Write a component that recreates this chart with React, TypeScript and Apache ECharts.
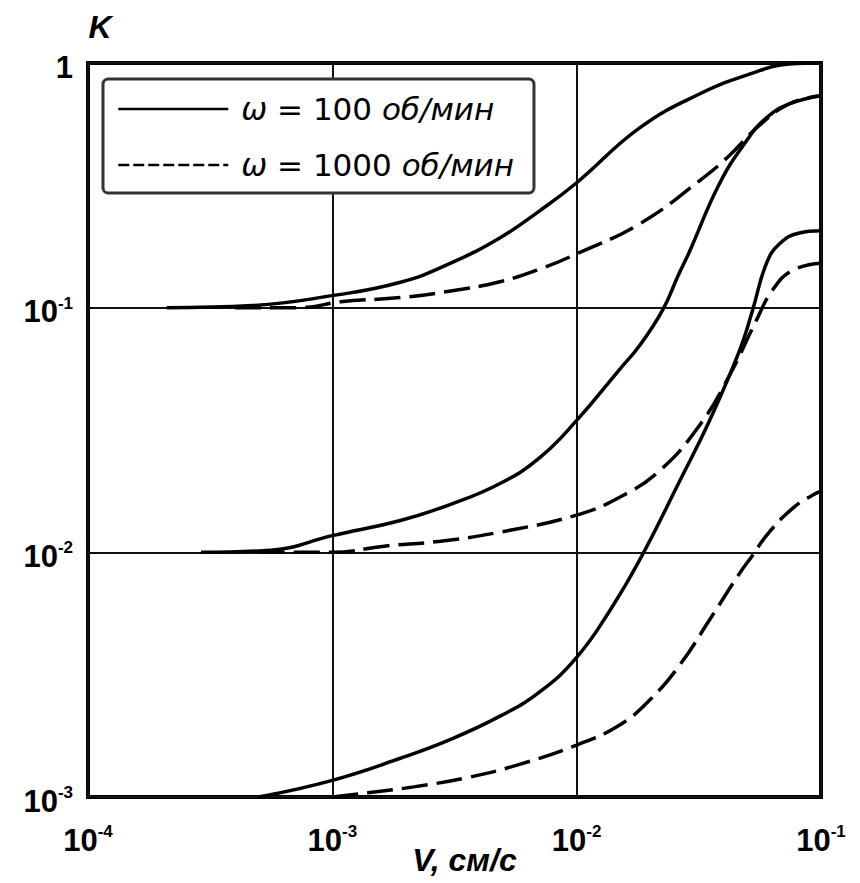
import React, { useEffect, useRef } from "react";
import * as echarts from "echarts";

// ---- data ----
const NAME_100 = "ω = 100 об/мин";
const NAME_1000 = "ω = 1000 об/мин";

// tick exponents (decades)
const xTickExponents = [-4, -3, -2, -1];
const yTickExponents = [-3, -2, -1, 0];

// group 1 (K0 = 0.1)
const g1SolidX = [2.1e-4, 4.7e-4, 1e-3, 1.9e-3, 3.05e-3, 4.9e-3, 7.1e-3, 1e-2, 1.81e-2, 3.18e-2, 5.1e-2, 7.4e-2, 1e-1];
const g1SolidY = [0.1, 0.102, 0.112, 0.127, 0.152, 0.194, 0.25, 0.324, 0.543, 0.747, 0.9, 0.99, 1.0];
const g1DashX = [4e-4, 7.4e-4, 1.08e-3, 1.9e-3, 3.05e-3, 4.9e-3, 7.1e-3, 1e-2, 1.81e-2, 3.18e-2, 4.2e-2, 5.56e-2, 7.4e-2, 1e-1];
const g1DashY = [0.1, 0.1, 0.1057, 0.11, 0.117, 0.128, 0.144, 0.166, 0.22, 0.33, 0.417, 0.553, 0.68, 0.735];

// group 2 (K0 = 0.01)
const g2SolidX = [2.9e-4, 5.6e-4, 1e-3, 1.9e-3, 3.05e-3, 4.9e-3, 7.1e-3, 1e-2, 1.5e-2, 1.81e-2, 2.25e-2, 2.6e-2, 2.9e-2, 3.84e-2, 4.95e-2, 5.98e-2, 7.4e-2, 1e-1];
const g2SolidY = [0.01, 0.0102, 0.0117, 0.0135, 0.0157, 0.0192, 0.0245, 0.0346, 0.056, 0.07, 0.098, 0.135, 0.17, 0.321, 0.48, 0.597, 0.68, 0.735];
const g2DashX = [5e-4, 1e-3, 1.63e-3, 2.77e-3, 4.87e-3, 1e-2, 1.5e-2, 2.19e-2, 3.18e-2, 4.22e-2, 5.43e-2, 6.3e-2, 7.62e-2, 1e-1];
const g2DashY = [0.01, 0.01, 0.0106, 0.0111, 0.0121, 0.0142, 0.0168, 0.0216, 0.033, 0.0528, 0.0885, 0.117, 0.142, 0.152];

// group 3 (K0 = 0.001)
const g3SolidX = [5e-4, 1e-3, 1.9e-3, 3.05e-3, 4.9e-3, 7.1e-3, 1e-2, 1.37e-2, 1.81e-2, 2.65e-2, 3.5e-2, 4.64e-2, 5.24e-2, 5.97e-2, 6.75e-2, 8.15e-2, 1e-1];
const g3SolidY = [0.001, 0.00117, 0.00144, 0.00172, 0.00215, 0.0027, 0.00372, 0.0058, 0.0093, 0.0197, 0.0346, 0.0667, 0.0972, 0.151, 0.182, 0.202, 0.206];
const g3DashX = [1e-3, 1.4e-3, 2.15e-3, 3.57e-3, 5.7e-3, 1e-2, 1.5e-2, 1.99e-2, 2.64e-2, 3.5e-2, 4.64e-2, 5.2e-2, 6.14e-2, 7.76e-2, 9.3e-2, 1e-1];
const g3DashY = [0.001, 0.00104, 0.0011, 0.0012, 0.00135, 0.00163, 0.00197, 0.00249, 0.00346, 0.0053, 0.0082, 0.0096, 0.0121, 0.0153, 0.0172, 0.0178];

const zip = (xs: number[], ys: number[]) => xs.map((x, i) => [x, ys[i]]);

const FONT = "Liberation Sans";
const DASH = [26, 9];

const tickRich = {
  b: { fontSize: 31, fontWeight: "bold", fontFamily: FONT, color: "#000", lineHeight: 34 },
  s: { fontSize: 17, fontWeight: "bold", fontFamily: FONT, color: "#000", lineHeight: 24, verticalAlign: "top" },
};

const fmtTick = (v: number) => {
  const e = Math.round(Math.log10(v));
  if (e === 0) return "{b|1}";
  return `{b|10}{s|${e}}`;
};

export default function App() {
  const ref = useRef<HTMLDivElement>(null);
  useEffect(() => {
    if (!ref.current) return;
    const chart = echarts.init(ref.current, undefined, { renderer: "svg" });
    const mk = (name: string, xs: number[], ys: number[], dashed: boolean) => ({
      type: "line",
      name,
      data: zip(xs, ys),
      smooth: 0.45,
      symbol: "none",
      showSymbol: false,
      lineStyle: { color: "#000", width: 3.5, type: dashed ? DASH : "solid" },
      itemStyle: { color: "#000" },
      z: 5,
    });
    chart.setOption({
      animation: false,
      backgroundColor: "#fff",
      grid: {
        left: 88,
        right: 39,
        top: 63,
        bottom: 86,
        outerBoundsMode: "none",
        containLabel: false,
        show: true,
        borderColor: "#000",
        borderWidth: 4,
        backgroundColor: "transparent",
      },
      legend: {
        left: 103,
        top: 79,
        orient: "vertical",
        selectedMode: false,
        backgroundColor: "#fff",
        borderColor: "#333",
        borderWidth: 3,
        borderRadius: 5,
        padding: [12, 20, 10, 14],
        itemGap: 20,
        itemWidth: 110,
        itemHeight: 14,
        z: 10,
        data: [
          {
            name: NAME_100,
            itemStyle: { opacity: 0 },
            lineStyle: { type: "solid", width: 2.5, color: "#000" },
          },
          {
            name: NAME_1000,
            itemStyle: { opacity: 0 },
            lineStyle: { type: [11, 4], width: 2.5, color: "#000" },
          },
        ],
        formatter: (name: string) =>
          name.replace("ω", "{w|ω}").replace("об/мин", "{i|об/мин}"),
        textStyle: {
          fontSize: 31,
          fontFamily: "DejaVu Sans",
          color: "#000",
          lineHeight: 36,
          padding: [0, 0, 0, 8],
          rich: {
            w: { fontSize: 31, fontFamily: "DejaVu Sans", fontStyle: "italic", color: "#000", lineHeight: 36 },
            i: { fontSize: 31, fontFamily: "DejaVu Sans", fontStyle: "italic", color: "#000", lineHeight: 36 },
          },
        },
      },
      xAxis: {
        type: "log",
        logBase: 10,
        min: Math.pow(10, xTickExponents[0]),
        max: Math.pow(10, xTickExponents[xTickExponents.length - 1]),
        name: "V, см/с",
        nameLocation: "middle",
        nameGap: 47,
        nameMoveOverlap: false,
        nameTextStyle: {
          fontSize: 32,
          fontStyle: "italic",
          fontWeight: "bold",
          fontFamily: FONT,
          color: "#000",
          padding: [0, 0, 0, 20],
        },
        axisLine: { show: false },
        axisTick: { show: false },
        splitLine: { show: true, lineStyle: { color: "#111", width: 2 } },
        axisLabel: { formatter: fmtTick, rich: tickRich, margin: 26 },
      },
      yAxis: {
        type: "log",
        logBase: 10,
        min: Math.pow(10, yTickExponents[0]),
        max: Math.pow(10, yTickExponents[yTickExponents.length - 1]),
        name: "K",
        nameLocation: "end",
        nameGap: 20,
        nameMoveOverlap: false,
        nameTextStyle: {
          fontSize: 32,
          fontStyle: "italic",
          fontWeight: "bold",
          fontFamily: FONT,
          color: "#000",
          padding: [0, 0, 0, 24],
        },
        axisLine: { show: false },
        axisTick: { show: false },
        splitLine: { show: true, lineStyle: { color: "#111", width: 2 } },
        axisLabel: { formatter: fmtTick, rich: tickRich, margin: 15, padding: [8, 0, 0, 0] },
      },
      series: [
        mk(NAME_100, g1SolidX, g1SolidY, false),
        mk(NAME_1000, g1DashX, g1DashY, true),
        mk(NAME_100, g2SolidX, g2SolidY, false),
        mk(NAME_1000, g2DashX, g2DashY, true),
        mk(NAME_100, g3SolidX, g3SolidY, false),
        mk(NAME_1000, g3DashX, g3DashY, true),
      ],
    });
    return () => chart.dispose();
  }, []);
  return (
    <div
      ref={ref}
      style={{ position: "fixed", left: 0, top: 0, width: 860, height: 883, background: "#fff" }}
    />
  );
}
